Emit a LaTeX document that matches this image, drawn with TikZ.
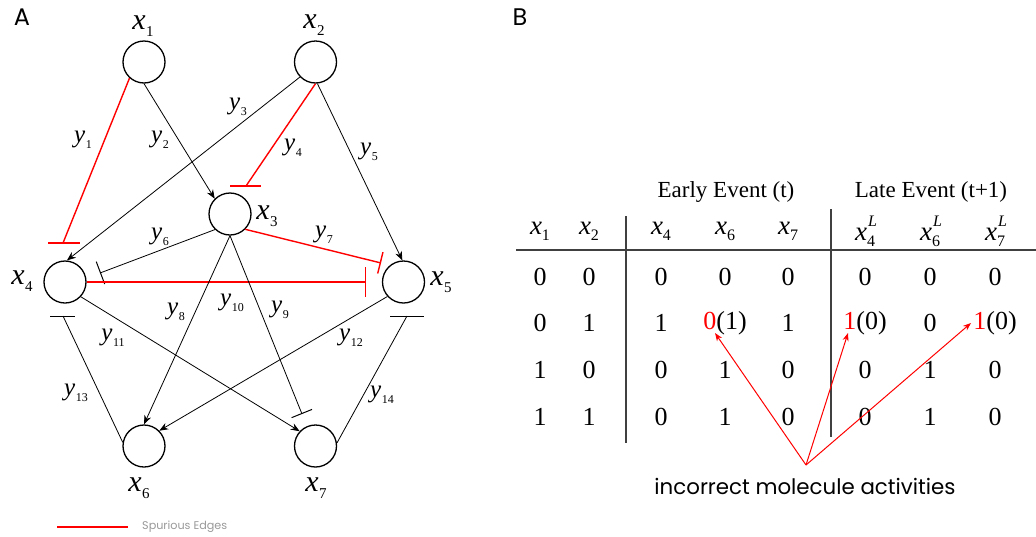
\documentclass[tikz,border=0pt]{standalone}
\usepackage{fontspec}
\setmainfont{Liberation Serif}
\newfontfamily\gothic{Poppins}
\usetikzlibrary{arrows.meta}
\newcommand{\nx}[1]{{\fontsize{30}{30}\selectfont\itshape x}\kern0.5pt\raisebox{-7pt}{\fontsize{15}{15}\selectfont #1}}
\newcommand{\ny}[1]{{\fontsize{25}{25}\selectfont\itshape y}\kern0.5pt\raisebox{-6pt}{\fontsize{12}{12}\selectfont #1}}
\newcommand{\tabx}[1]{{\fontsize{27}{27}\selectfont\itshape x}\raisebox{-6pt}{\fontsize{16}{16}\selectfont #1}}
\newcommand{\tabxl}[1]{{\fontsize{27}{27}\selectfont\itshape x}\rlap{\raisebox{14pt}{\fontsize{16}{16}\selectfont\itshape \kern1pt L}}\raisebox{-6pt}{\fontsize{16}{16}\selectfont #1}}
\begin{document}
\begin{tikzpicture}[x=1pt,y=-1pt,
  circ/.style={circle, draw, line width=1.3pt, minimum size=42pt, inner sep=0pt},
  lab/.style={inner sep=0pt},
  edge/.style={line width=0.8pt},
  act/.style={edge, -{Stealth[length=9pt,width=7pt,inset=3pt]}},
  spur/.style={red, line width=1.4pt},
  barline/.style={line width=0.8pt},
  cell/.style={inner sep=0pt, font=\fontsize{26}{26}\selectfont},
  head/.style={inner sep=0pt, font=\fontsize{23}{23}\selectfont},
  tline/.style={line width=1.1pt, black!75},
  redarr/.style={red, line width=1pt, -{Stealth[length=8pt,width=6pt,inset=2.5pt]}}
]
\fill[white] (0,0) rectangle (1036,536);
\useasboundingbox (0,0) rectangle (1036,536);

% panel letters
\node[lab, font=\gothic\fontsize{24}{24}\selectfont] (A) at (22,17) {A};
\node[lab, font=\gothic\fontsize{24}{24}\selectfont] (B) at (520,17) {B};

% network nodes
\node[circ] (n1) at (144,62) {};
\node[circ] (n2) at (315.5,62) {};
\node[circ] (n3) at (230,214) {};
\node[circ] (n4) at (65,282) {};
\node[circ] (n5) at (403.5,282) {};
\node[circ] (n6) at (144,446) {};
\node[circ] (n7) at (315.5,446) {};

\node[lab] (lx1) at (143,26) {\nx{1}};
\node[lab] (lx2) at (314,25) {\nx{2}};
\node[lab] (lx3) at (267,216) {\nx{3}};
\node[lab] (lx4) at (22,281) {\nx{4}};
\node[lab] (lx5) at (441,282) {\nx{5}};
\node[lab] (lx6) at (139,488) {\nx{6}};
\node[lab] (lx7) at (316,488) {\nx{7}};

% edge labels
\node[lab] (ly1) at (83,140) {\ny{1}};
\node[lab] (ly2) at (160,140) {\ny{2}};
\node[lab] (ly3) at (238,107) {\ny{3}};
\node[lab] (ly4) at (293,148) {\ny{4}};
\node[lab] (ly5) at (369,152) {\ny{5}};
\node[lab] (ly6) at (160,237) {\ny{6}};
\node[lab] (ly7) at (324,235) {\ny{7}};
\node[lab] (ly8) at (176,312) {\ny{8}};
\node[lab] (ly10) at (232,303) {\ny{10}};
\node[lab] (ly9) at (280,310) {\ny{9}};
\node[lab] (ly11) at (113,338) {\ny{11}};
\node[lab] (ly12) at (351,338) {\ny{12}};
\node[lab] (ly13) at (76,393) {\ny{13}};
\node[lab] (ly14) at (382,395) {\ny{14}};

% inhibition end points
\coordinate (b1) at (63,243);
\coordinate (b4) at (246,186);
\coordinate (b6) at (100,273);
\coordinate (b7) at (381,263);
\coordinate (b45) at (366,282);
\coordinate (b9) at (302,414);
\coordinate (b13) at (63,316);
\coordinate (b14) at (407,316);

% edges
\draw[spur] (n1.228) -- (b1);
\draw[spur] ([xshift=-15pt]b1) -- ([xshift=17pt]b1);
\draw[act] (n1.270) -- (n3.135);
\draw[act] (n2.224) -- (n4.85);
\draw[spur] (n2.270) -- (b4);
\draw[spur] ([xshift=-16pt]b4) -- ([xshift=15pt]b4);
\draw[act] (n2.-85) -- (n5.93);
\draw[edge, -{Bar[width=24pt,line width=1pt]}] (n3.226) -- (b6);
\draw[spur, -{Bar[width=22pt]}] (n3.-45) -- (b7);
\draw[spur, -{Bar[width=30pt]}] (n4.east) -- (b45);
\draw[act] (n3.270) -- (n6.north);
\draw[edge, -{Bar[width=22pt,line width=1pt]}] (n3.270) -- (b9);
\draw[act] (n4.-43) -- (n7.137);
\draw[act] (n5.222) -- (n6.45);
\draw[edge] (n6.170) -- (b13);
\draw[barline] ([xshift=-13pt]b13) -- ([xshift=12pt]b13);
\draw[edge] (n7.8) -- (b14);
\draw[barline] ([xshift=-17pt]b14) -- ([xshift=17pt]b14);

% legend
\coordinate (lg1) at (57,527);
\coordinate (lg2) at (128,527);
\draw[red, line width=2pt] (lg1) -- (lg2);
\node[lab, anchor=west, text=black!40] (lgt) at (142,527) {\resizebox{85pt}{!}{\gothic Spurious Edges}};

% table
\node[head] (h1) at (726,192) {Early Event (t)};
\node[head] (h2) at (931,192) {Late Event (t+1)};

\node[lab] (c1) at (540,231) {\tabx{1}};
\node[lab] (c2) at (589,231) {\tabx{2}};
\node[lab] (c3) at (661,231) {\tabx{4}};
\node[lab] (c4) at (725,231) {\tabx{6}};
\node[lab] (c5) at (788,231) {\tabx{7}};
\node[lab] (c6) at (865,231) {\tabxl{4}};
\node[lab] (c7) at (930,231) {\tabxl{6}};
\node[lab] (c8) at (995,231) {\tabxl{7}};

\coordinate (hl1) at (516,250);
\coordinate (hl2) at (1036,250);
\coordinate (v1a) at (626,216);
\coordinate (v1b) at (626,443);
\coordinate (v2a) at (831,209);
\coordinate (v2b) at (831,437);
\draw[tline] (hl1) -- (hl2);
\draw[tline] (v1a) -- (v1b);
\draw[tline] (v2a) -- (v2b);

\foreach \cx/\v [count=\j] in {540/0,589/0,661/0,725/0,788/0,865/0,930/0,995/0}
  \node[cell] (ra\j) at (\cx,277) {\v};
\foreach \cx/\v [count=\j] in {540/0,589/1,661/1,725/{\textcolor{red}{0}(1)},788/1,865/{\textcolor{red}{1}(0)},930/0,995/{\textcolor{red}{1}(0)}}
  \node[cell] (rb\j) at (\cx,323) {\v};
\foreach \cx/\v [count=\j] in {540/1,589/0,661/0,725/1,788/0,865/0,930/1,995/0}
  \node[cell] (rc\j) at (\cx,370) {\v};
\foreach \cx/\v [count=\j] in {540/1,589/1,661/0,725/1,788/0,865/0,930/1,995/0}
  \node[cell] (rd\j) at (\cx,417) {\v};

\node[lab] (inc) at (805,486) {\resizebox{301pt}{!}{\gothic incorrect molecule activities}};

\coordinate (apex) at (806,465);
\coordinate (t1) at (715,333);
\coordinate (t2) at (848,333);
\coordinate (t3) at (971,323);
\draw[redarr] (apex) -- (t1);
\draw[redarr] (apex) -- (t2);
\draw[redarr] (apex) -- (t3);
\end{tikzpicture}
\end{document}
